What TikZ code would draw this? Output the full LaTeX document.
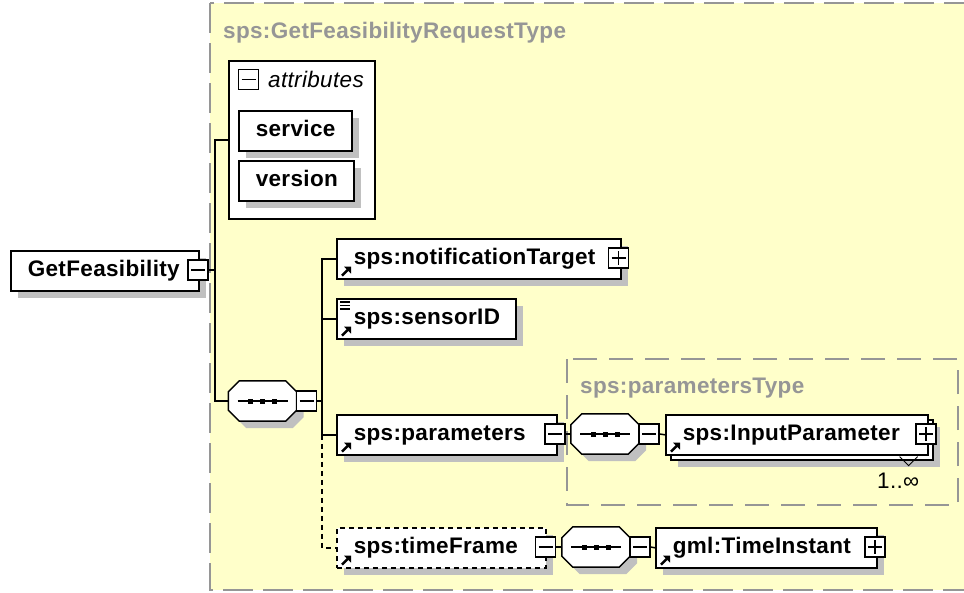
\documentclass[tikz,border=0pt]{standalone}
\usepackage{fontspec}
\setmainfont{Liberation Sans}[LetterSpace=1.5]
\usetikzlibrary{calc,shadows,arrows.meta}
\definecolor{typefill}{RGB}{255,255,202}
\definecolor{typeborder}{RGB}{150,150,150}
\definecolor{titlegray}{RGB}{150,150,150}
\definecolor{shadowgray}{RGB}{192,192,192}
\newcommand\efont{\fontsize{22.5}{26}\selectfont\bfseries}
\newcommand\rfont{\fontsize{22.5}{26}\selectfont}
\newcommand\elabel[2]{\hbox to #1pt{\hskip17pt\relax #2\hss}}
\newcommand\refarrow[1]{%
  \draw[line width=2.6pt] ($(#1.south west)+(6,-4)$) -- ($(#1.south west)+(12,-10)$);
  \fill ($(#1.south west)+(15,-13)$) -- ($(#1.south west)+(8,-13)$) -- ($(#1.south west)+(15,-6)$) -- cycle;}
\newcommand\seqoct[3]{%
  \node[seqbox] (#1) at (#2,#3) {};
  \filldraw[octa] ($(#1.north west)+(11,0)$) -- ($(#1.north east)+(-11,0)$) -- ($(#1.north east)+(0,11)$) -- ($(#1.south east)+(0,-11)$) -- ($(#1.south east)+(-11,0)$) -- ($(#1.south west)+(11,0)$) -- ($(#1.south west)+(0,-11)$) -- ($(#1.north west)+(0,11)$) -- cycle;
  \draw[line width=1.4pt] ($(#1.center)+(-25,0)$) -- ($(#1.center)+(25,0)$);
  \fill ($(#1.center)+(-14.5,-2.5)$) rectangle ++(5,5);
  \fill ($(#1.center)+(-2.5,-2.5)$) rectangle ++(5,5);
  \fill ($(#1.center)+(9.5,-2.5)$) rectangle ++(5,5);
}
\begin{document}
\begin{tikzpicture}[x=1pt,y=-1pt,
  shadowed/.style={drop shadow={shadow xshift=7pt,shadow yshift=-7pt,fill=shadowgray,opacity=1}},
  elembase/.style={draw,line width=1.6pt,fill=white,inner sep=0pt,minimum height=40pt,text height=16pt,text depth=5pt,anchor=north west,font=\efont},
  elem/.style={elembase,shadowed},
  pmbox/.style={draw,line width=1.4pt,fill=white,minimum size=20pt,inner sep=0pt},
  minusbox/.style={pmbox,path picture={\draw[line width=1.4pt] ([xshift=3pt]path picture bounding box.west) -- ([xshift=-3pt]path picture bounding box.east);}},
  plusbox/.style={pmbox,path picture={\draw[line width=1.4pt] ([xshift=3pt]path picture bounding box.west) -- ([xshift=-3pt]path picture bounding box.east) ([yshift=-3pt]path picture bounding box.north) -- ([yshift=3pt]path picture bounding box.south);}},
  seqbox/.style={draw=none,inner sep=0pt,minimum width=68pt,minimum height=40pt},
  octa/.style={draw,fill=white,line width=1.5pt,shadowed},
  conn/.style={line width=1.5pt,draw=black},
  dconn/.style={conn,dash pattern=on 5pt off 4pt},
  typebox/.style={fill=typefill,draw=typeborder,line width=1.5pt},
  title/.style={font=\efont,text=titlegray,inner sep=0pt,anchor=base west}
]
\useasboundingbox[fill=white] (0,0) rectangle (964,592);

% complex type containers
\draw[typebox,dash pattern=on 30pt off 10pt] (210,3) rectangle (985,590);
\node[title] (t1) at (223,38) {sps:GetFeasibilityRequestType};

% root element
\node[elem] (gf) at (10,250) {\elabel{188}{GetFeasibility}};
\node[minusbox] (gfm) at (198,270) {};

% attributes
\node[draw,line width=1.6pt,fill=white,minimum width=146pt,minimum height=158pt,anchor=north west,inner sep=0pt] (attr) at (228,60) {};
\node[minusbox] (attrm) at (248.5,79.5) {};
\node[font=\rfont\itshape,inner sep=0pt,anchor=base west] (attrl) at (268,87) {attributes};
\node[elem] (svc) at (238,110) {\elabel{113}{service}};
\node[elem] (ver) at (238,160) {\elabel{115}{version}};

% sequence 1
\seqoct{seq1}{262.5}{401}
\node[minusbox] (seq1m) at (306.5,401) {};

% children
\node[elem] (nt) at (336,238) {\elabel{284}{sps:notificationTarget}};
\node[plusbox] (ntp) at (618.5,258) {};
\refarrow{nt}

\node[elem] (sid) at (336,298) {\elabel{179}{sps:sensorID}};
\refarrow{sid}
\draw[line width=1.2pt] ($(sid.north west)+(4,4)$) -- ++(10,0) ($(sid.north west)+(4,7.5)$) -- ++(10,0) ($(sid.north west)+(4,11)$) -- ++(10,0);

\node[elem] (par) at (336,414) {\elabel{220}{sps:parameters}};
\node[minusbox] (parm) at (555,434) {};
\refarrow{par}

% parametersType
\draw[typebox,dash pattern=on 24pt off 12pt] (567,359) rectangle (958,505);
\node[title] (t2) at (580,393) {sps:parametersType};
\seqoct{seq2}{605}{434}
\node[minusbox] (seq2m) at (649,434) {};
\node[elem] (ipb) at (670,419) {\elabel{262}{\phantom{x}}};
\node[elembase] (ip) at (665,414) {\elabel{262}{sps:InputParameter}};
\node[plusbox] (ipp) at (926,434) {};
\refarrow{ip}
\draw[line width=1pt] ($(ip.south east)+(-29,1)$) -- ++(9,9) -- ++(9,-9);
\node[font=\rfont,inner sep=0pt,anchor=base west] (card) at (877,488) {1..∞};

% timeFrame
\node[elem,dash pattern=on 5pt off 4pt] (tf) at (336,527) {\elabel{209}{sps:timeFrame}};
\node[minusbox] (tfm) at (545.5,547) {};
\refarrow{tf}
\seqoct{seq3}{596}{547}
\node[minusbox] (seq3m) at (640,547) {};
\node[elem] (ti) at (655,527) {\elabel{221}{gml:TimeInstant}};
\node[plusbox] (tip) at (875,547) {};
\refarrow{ti}

% connectors
\coordinate (b1) at (215,0);
\coordinate (b2) at (322,0);
\draw[conn] (gfm.east) -- (b1 |- gfm.east);
\draw[conn] (attr.west) -| (b1 |- seq1.west) -- (seq1.west);
\draw[conn] (seq1m.east) -- (b2 |- seq1m.east);
\draw[conn] (nt.west) -| (b2 |- par.west) -- (par.west);
\draw[conn] (sid.west) -- (b2 |- sid.west);
\draw[dconn] (b2 |- par.west) |- (tf.west);
\draw[conn] (parm.east) -- (seq2.west);
\draw[conn] (seq2m.east) -- (ip.west);
\draw[conn] (tfm.east) -- (seq3.west);
\draw[conn] (seq3m.east) -- (ti.west);
\end{tikzpicture}
\end{document}
